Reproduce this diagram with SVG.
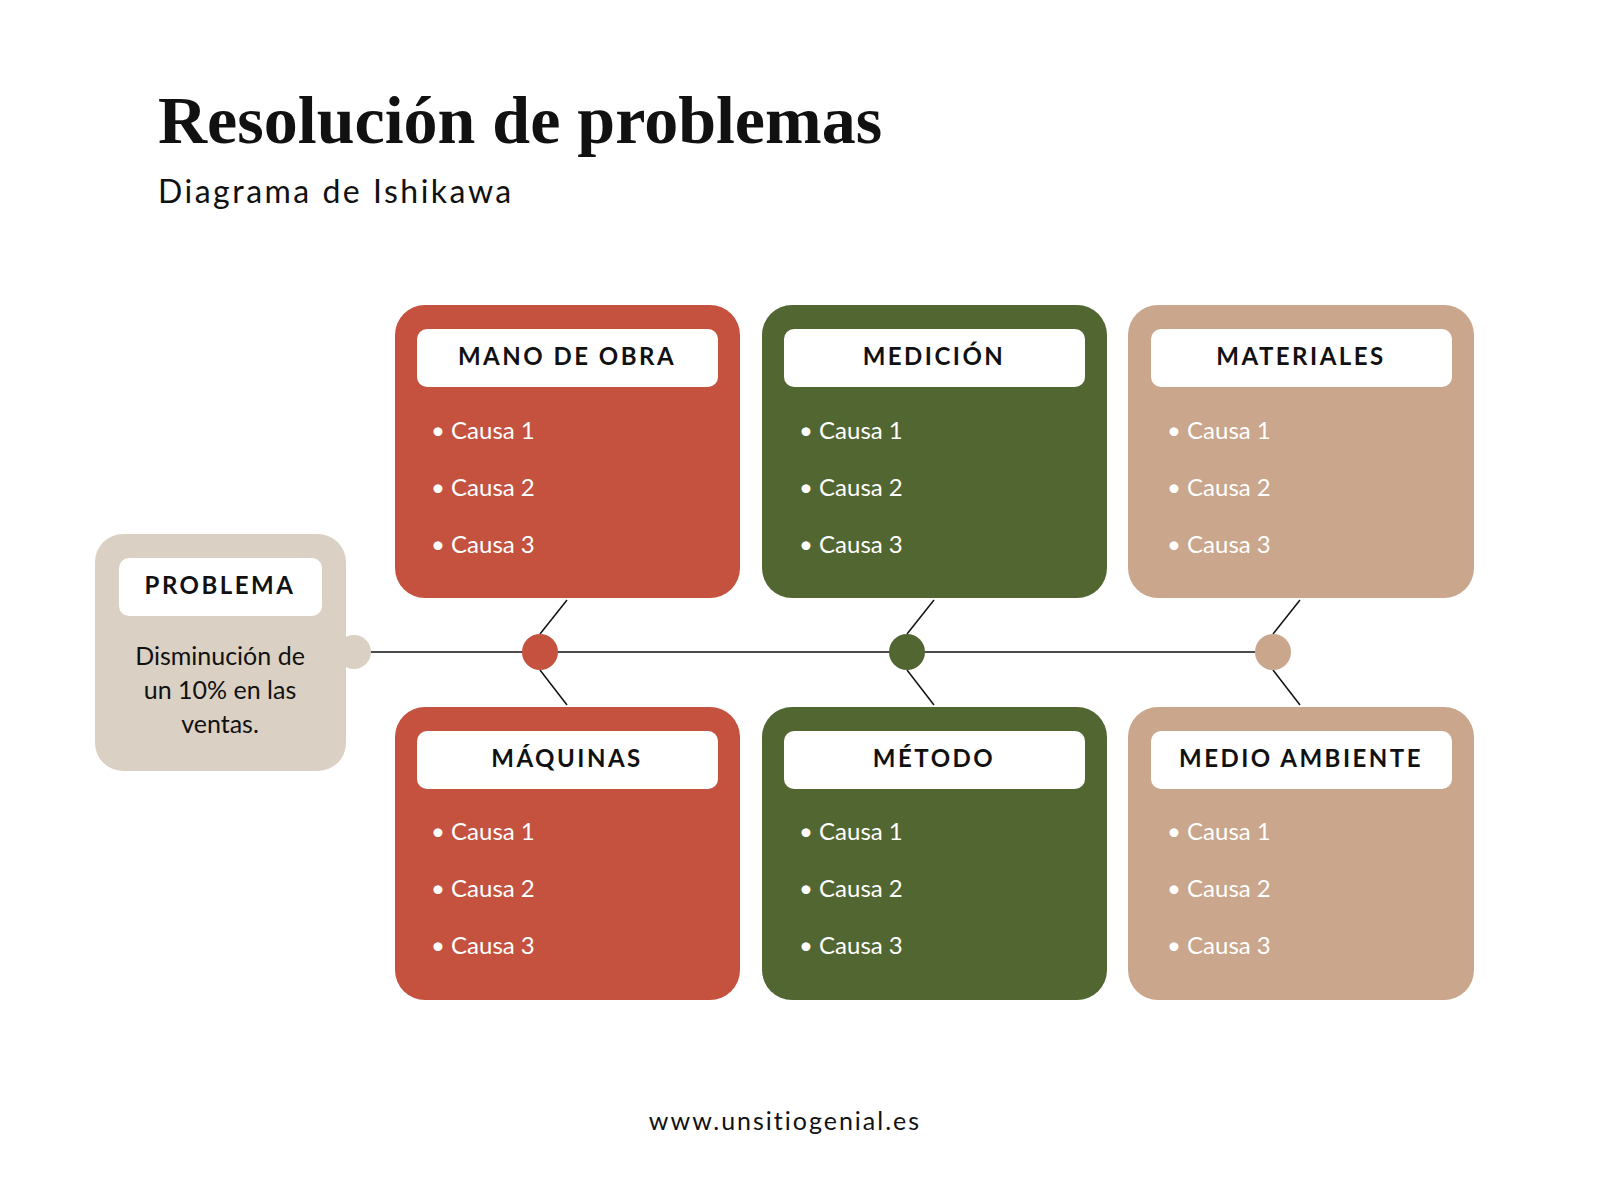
<svg xmlns="http://www.w3.org/2000/svg" width="1600" height="1200" viewBox="0 0 1600 1200">
<style>
.hd{font-family:"Lato","Liberation Sans",sans-serif;font-weight:bold;font-size:24px;letter-spacing:2.5px;text-anchor:middle;fill:#111}
.it{font-family:"Lato","Liberation Sans",sans-serif;font-size:24px;fill:#fff}
.w{fill:#fff}
</style>
<rect width="1600" height="1200" fill="#fff"/>
<text x="158" y="143" font-family="Liberation Serif,serif" font-weight="bold" font-size="68" fill="#111">Resolución de problemas</text>
<text x="158" y="203" font-family="Lato,Liberation Sans,sans-serif" font-size="32" letter-spacing="2.5" fill="#111">Diagrama de Ishikawa</text>
<g id="connectors" stroke="#111" stroke-width="1.5">
<line x1="370" y1="652" x2="1273" y2="652"/>
<line x1="567" y1="600" x2="540" y2="634"/><line x1="540" y1="670" x2="567" y2="705"/>
<line x1="934" y1="600" x2="907" y2="634"/><line x1="907" y1="670" x2="934" y2="705"/>
<line x1="1300" y1="600" x2="1273" y2="634"/><line x1="1273" y1="670" x2="1300" y2="705"/>
</g>
<g id="dots"><circle cx="540" cy="652" r="18" fill="#C4523F"/><circle cx="907" cy="652" r="18" fill="#526632"/><circle cx="1273" cy="652" r="18" fill="#C9A68C"/></g>
<g id="problema">
<circle cx="354" cy="652" r="17" fill="#DBD0C4"/>
<rect x="95" y="534" width="251" height="237" rx="28" fill="#DBD0C4"/>
<rect x="119" y="558" width="203" height="58" rx="10" class="w"/>
<text x="220" y="594" class="hd">PROBLEMA</text>
<text x="220" y="665" font-family="Lato,Liberation Sans,sans-serif" font-size="25" text-anchor="middle" fill="#111">Disminución de</text>
<text x="220" y="699" font-family="Lato,Liberation Sans,sans-serif" font-size="25" text-anchor="middle" fill="#111">un 10% en las</text>
<text x="220" y="733" font-family="Lato,Liberation Sans,sans-serif" font-size="25" text-anchor="middle" fill="#111">ventas.</text>
</g>
<g id="mano"><rect x="395" y="305" width="345" height="293" rx="30" fill="#C4523F"/><rect x="417" y="329" width="301" height="58" rx="10" class="w"/><text x="567" y="365" class="hd">MANO DE OBRA</text>
<g class="it"><text x="431" y="439">•   Causa 1</text><text x="431" y="496">•   Causa 2</text><text x="431" y="553">•   Causa 3</text></g></g>
<g id="medicion"><rect x="762" y="305" width="345" height="293" rx="30" fill="#526632"/><rect x="784" y="329" width="301" height="58" rx="10" class="w"/><text x="934" y="365" class="hd">MEDICIÓN</text>
<g class="it"><text x="799" y="439">•   Causa 1</text><text x="799" y="496">•   Causa 2</text><text x="799" y="553">•   Causa 3</text></g></g>
<g id="materiales"><rect x="1128" y="305" width="346" height="293" rx="30" fill="#C9A68C"/><rect x="1151" y="329" width="301" height="58" rx="10" class="w"/><text x="1301" y="365" class="hd" font-weight="normal">MATERIALES</text>
<g class="it"><text x="1167" y="439">•   Causa 1</text><text x="1167" y="496">•   Causa 2</text><text x="1167" y="553">•   Causa 3</text></g></g>
<g id="maquinas"><rect x="395" y="707" width="345" height="293" rx="30" fill="#C4523F"/><rect x="417" y="731" width="301" height="58" rx="10" class="w"/><text x="567" y="767" class="hd">MÁQUINAS</text>
<g class="it"><text x="431" y="840">•   Causa 1</text><text x="431" y="897">•   Causa 2</text><text x="431" y="954">•   Causa 3</text></g></g>
<g id="metodo"><rect x="762" y="707" width="345" height="293" rx="30" fill="#526632"/><rect x="784" y="731" width="301" height="58" rx="10" class="w"/><text x="934" y="767" class="hd">MÉTODO</text>
<g class="it"><text x="799" y="840">•   Causa 1</text><text x="799" y="897">•   Causa 2</text><text x="799" y="954">•   Causa 3</text></g></g>
<g id="medio"><rect x="1128" y="707" width="346" height="293" rx="30" fill="#C9A68C"/><rect x="1151" y="731" width="301" height="58" rx="10" class="w"/><text x="1301" y="767" class="hd">MEDIO AMBIENTE</text>
<g class="it"><text x="1167" y="840">•   Causa 1</text><text x="1167" y="897">•   Causa 2</text><text x="1167" y="954">•   Causa 3</text></g></g>
<text x="785" y="1130" font-family="Lato,Liberation Sans,sans-serif" font-size="25" letter-spacing="2" text-anchor="middle" fill="#111">www.unsitiogenial.es</text>
</svg>
